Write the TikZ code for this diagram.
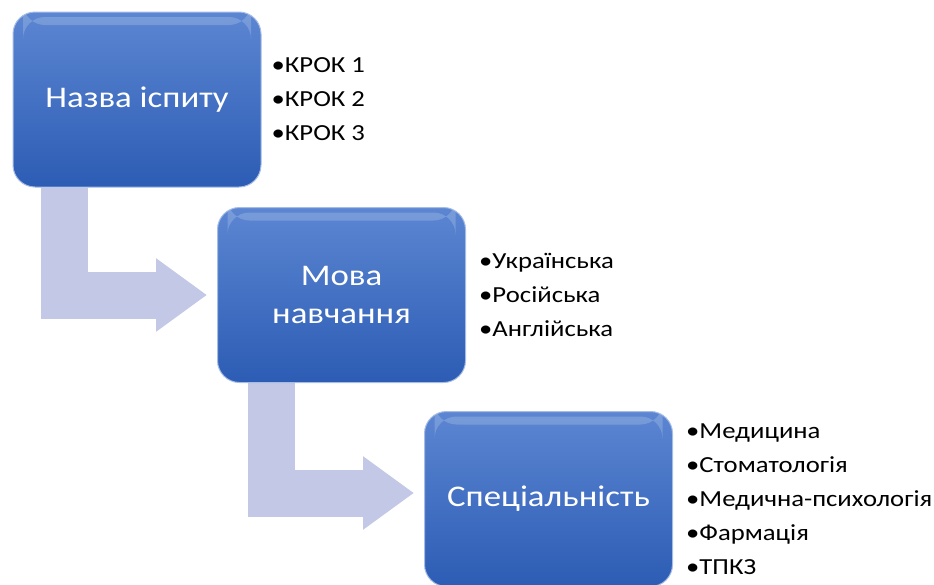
\documentclass[tikz,border=0pt]{standalone}
\usepackage{fontspec}
\setmainfont{Carlito}[FakeStretch=1.16]
\usetikzlibrary{arrows.meta, positioning, backgrounds}
\definecolor{cBoxTop}{RGB}{92,134,210}
\definecolor{cBoxBot}{RGB}{44,92,180}
\definecolor{cArrow}{RGB}{194,200,229}
\tikzset{
	stepbox/.style  ={rectangle, rounded corners=22pt, minimum width=248pt, minimum height=175pt, align=center, text=white, top color=cBoxTop, bottom color=cBoxBot, draw=cBoxTop!55!white, line width=1pt, font=\fontsize{30}{38}\selectfont,
		path picture={\fill[white, opacity=0.18] ([xshift=10pt,yshift=-5pt]path picture bounding box.north west) rectangle ([xshift=-10pt,yshift=-13pt]path picture bounding box.north east);}},
	itemlist/.style ={inner sep=0pt, align=left, font=\fontsize{23}{34}\selectfont},
	bentarrow/.style={draw=cArrow, line width=47pt, line join=miter, -{Triangle[length=51pt, width=70pt]}, shorten >=10pt},
}

\begin{document}
\begin{tikzpicture}[x=1pt, y=-1pt]
	\useasboundingbox (0,0) rectangle (934,584);
	% steps
	\node[stepbox] (naz)  at (137,99.5)  {Назва іспиту};
	\node[stepbox] (mova) at (341.5,295) {Мова\\навчання};
	\node[stepbox] (spec) at (548.5,499) {Спеціальність};
	% lists
	\node[itemlist, right=10pt of naz]  (krok)  {•КРОК 1\\•КРОК 2\\•КРОК 3};
	\node[itemlist, right=13pt of mova] (lang)  {•Українська\\•Російська\\•Англійська};
	\node[itemlist, right=13pt of spec] (fields) {•Медицина\\•Стоматологія\\•Медична-психологія\\•Фармація\\•ТПКЗ};
	% bent arrows
	\begin{scope}[on background layer]
		\draw[bentarrow] ([xshift=52pt]naz.south west) |- (mova.west);
		\draw[bentarrow] ([xshift=54pt]mova.south west) |- ([yshift=6pt]spec.west);
	\end{scope}
\end{tikzpicture}
\end{document}
